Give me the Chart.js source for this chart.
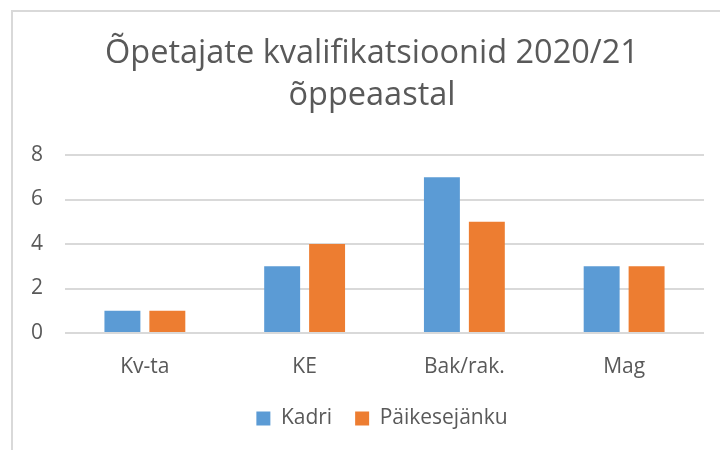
<!DOCTYPE html>
<html>
<head>
<meta charset="utf-8">
<script src="https://cdn.jsdelivr.net/npm/chart.js@4.4.0/dist/chart.umd.min.js"></script>
<style>
  html, body { margin: 0; padding: 0; background: #fff; }
  #wrap { width: 720px; height: 450px; }
</style>
</head>
<body>
<div id="wrap"><canvas id="c" width="720" height="450"></canvas></div>
<script>
const categories = ["Kv-ta", "KE", "Bak/rak.", "Mag"];
const kadri = [1, 3, 7, 3];
const paikesejanku = [1, 4, 5, 3];
const yTicks = [0, 2, 4, 6, 8];

const textColor = "#595959";
const gridColor = "#d9d9d9";

// light frame like the spreadsheet chart area, and nudge title/legend to the right
const framePlugin = {
    id: "frame",
    afterLayout(chart) {
        chart.titleBlock.left += 40;
        chart.legend.left += 60;
    },
    beforeDraw(chart) {
        const ctx = chart.ctx;
        ctx.save();
        ctx.fillStyle = "#fff";
        ctx.fillRect(0, 0, chart.width, chart.height);
        ctx.strokeStyle = gridColor;
        ctx.lineWidth = 2;
        ctx.beginPath();
        ctx.moveTo(12, chart.height);
        ctx.lineTo(12, 11);
        ctx.lineTo(chart.width, 11);
        ctx.stroke();
        ctx.restore();
    }
};

new Chart(document.getElementById("c"), {
    type: "bar",
    data: {
        labels: categories,
        datasets: [
            {
                label: "Kadri",
                data: kadri,
                backgroundColor: "#5B9BD5",
                barPercentage: 0.8,
                categoryPercentage: 0.5625
            },
            {
                label: "Päikesejänku",
                data: paikesejanku,
                backgroundColor: "#ED7D31",
                barPercentage: 0.8,
                categoryPercentage: 0.5625
            }
        ]
    },
    options: {
        responsive: false,
        animation: false,
        layout: { padding: { top: 0, left: 0, right: 16, bottom: 11 } },
        plugins: {
            title: {
                display: true,
                text: ["Õpetajate kvalifikatsioonid 2020/21", "õppeaastal"],
                color: textColor,
                font: { family: "'Open Sans'", size: 32.5, weight: "normal", lineHeight: "42px" },
                padding: { top: 33, bottom: 38 }
            },
            legend: {
                position: "bottom",
                labels: {
                    color: textColor,
                    boxWidth: 14,
                    boxHeight: 14,
                    padding: 23,
                    font: { family: "'Open Sans'", size: 21 }
                }
            },
            tooltip: { enabled: false }
        },
        scales: {
            x: {
                grid: { display: false, drawTicks: false },
                border: { display: false },
                ticks: {
                    color: textColor,
                    padding: 21,
                    font: { family: "'Open Sans'", size: 21 }
                },
                afterFit(scale) { scale.height = 52; }
            },
            y: {
                min: 0,
                max: 8,
                grid: { color: gridColor, lineWidth: 2, drawTicks: false },
                border: { display: false },
                afterBuildTicks(scale) {
                    scale.ticks = yTicks.map(v => ({ value: v }));
                },
                ticks: {
                    color: textColor,
                    padding: 22,
                    font: { family: "'Open Sans'", size: 21 }
                },
                afterFit(scale) { scale.width = 65; }
            }
        }
    },
    plugins: [framePlugin]
});
</script>
</body>
</html>
